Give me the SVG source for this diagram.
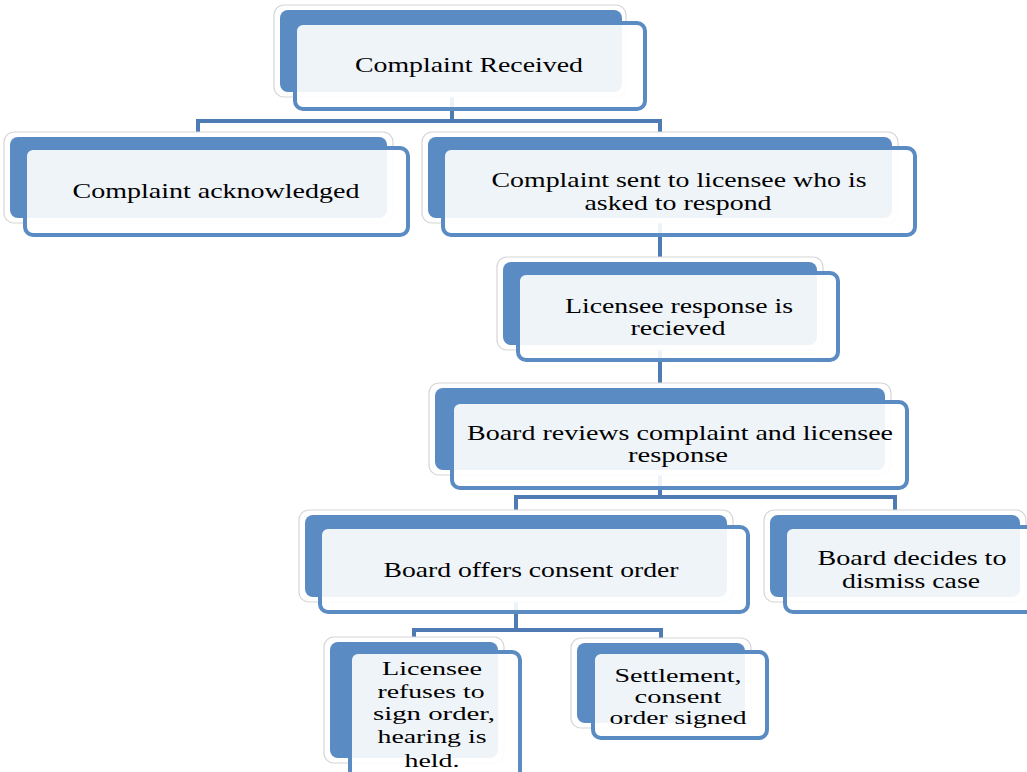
<svg xmlns="http://www.w3.org/2000/svg" width="1027" height="772" viewBox="0 0 1027 772">
<style>
.back{fill:#5B8BC3;stroke:none}
.halo{fill:#ffffff;stroke:#D6D6D6;stroke-width:1.2}
.front{fill:#ffffff;fill-opacity:0.9;stroke:#5B8BC3;stroke-width:4}
.conn{fill:none;stroke:#4E7BB3;stroke-width:4;stroke-linejoin:miter}
text{font-family:"Liberation Serif","Times New Roman",serif;font-size:21px;fill:#000;text-anchor:middle}
.sm{font-size:19px}
</style>
<rect width="1027" height="772" fill="#ffffff"/>
<g id="connectors">
<path class="conn" d="M452 92 V121 M198 137 V121 H660 V137"/>
<path class="conn" d="M660 218 V262"/>
<path class="conn" d="M660 345 V388"/>
<path class="conn" d="M660 470 V497 M516 515 V497 H895 V515"/>
<path class="conn" d="M516 597 V630 M414 642 V630 H661 V643"/>
</g>
<g id="n1">
<rect class="halo" x="274" y="5" width="352" height="92" rx="10"/>
<rect class="back" x="280" y="10" width="342" height="82" rx="8"/>
<rect class="front" x="295" y="23" width="350" height="86" rx="8"/>
<text x="469" y="72" textLength="228" lengthAdjust="spacingAndGlyphs">Complaint Received</text>
</g>
<g id="n2">
<rect class="halo" x="4" y="132" width="389" height="91" rx="10"/>
<rect class="back" x="10" y="137" width="377" height="81" rx="8"/>
<rect class="front" x="25" y="148" width="383" height="87" rx="8"/>
<text x="216" y="198" textLength="287" lengthAdjust="spacingAndGlyphs">Complaint acknowledged</text>
</g>
<g id="n3">
<rect class="halo" x="422" y="132" width="476" height="91" rx="10"/>
<rect class="back" x="428" y="137" width="464" height="81" rx="8"/>
<rect class="front" x="443" y="148" width="472" height="87" rx="8"/>
<text x="679" y="187" textLength="375" lengthAdjust="spacingAndGlyphs">Complaint sent to licensee who is</text>
<text x="678" y="210" textLength="187" lengthAdjust="spacingAndGlyphs">asked to respond</text>
</g>
<g id="n4">
<rect class="halo" x="497" y="257" width="326" height="93" rx="10"/>
<rect class="back" x="503" y="262" width="314" height="83" rx="8"/>
<rect class="front" x="518" y="273" width="320" height="87" rx="8"/>
<text x="679" y="313" textLength="228" lengthAdjust="spacingAndGlyphs">Licensee response is</text>
<text x="678" y="335" textLength="95" lengthAdjust="spacingAndGlyphs">recieved</text>
</g>
<g id="n5">
<rect class="halo" x="429" y="383" width="462" height="92" rx="10"/>
<rect class="back" x="435" y="388" width="450" height="82" rx="8"/>
<rect class="front" x="452" y="402" width="455" height="86" rx="8"/>
<text x="680" y="440" textLength="426" lengthAdjust="spacingAndGlyphs">Board reviews complaint and licensee</text>
<text x="678" y="462" textLength="100" lengthAdjust="spacingAndGlyphs">response</text>
</g>
<g id="n6">
<rect class="halo" x="299" y="510" width="434" height="92" rx="10"/>
<rect class="back" x="305" y="515" width="422" height="82" rx="8"/>
<rect class="front" x="320" y="527" width="428" height="85" rx="8"/>
<text x="531" y="577" textLength="295" lengthAdjust="spacingAndGlyphs">Board offers consent order</text>
</g>
<g id="n7">
<rect class="halo" x="764" y="510" width="262" height="92" rx="10"/>
<rect class="back" x="770" y="515" width="250" height="82" rx="8"/>
<rect class="front" x="785" y="527" width="250" height="85" rx="8"/>
<text x="912" y="565" textLength="189" lengthAdjust="spacingAndGlyphs">Board decides to</text>
<text x="911" y="588" textLength="138" lengthAdjust="spacingAndGlyphs">dismiss case</text>
</g>
<g id="n8">
<rect class="halo" x="324" y="637" width="180" height="126" rx="10"/>
<rect class="back" x="330" y="642" width="168" height="116" rx="8"/>
<rect class="front" x="350" y="652" width="170" height="130" rx="8"/>
<text class="sm" x="432" y="675" textLength="100" lengthAdjust="spacingAndGlyphs">Licensee</text>
<text class="sm" x="431" y="698" textLength="107" lengthAdjust="spacingAndGlyphs">refuses to</text>
<text class="sm" x="434" y="720" textLength="122" lengthAdjust="spacingAndGlyphs">sign order,</text>
<text class="sm" x="432" y="743" textLength="109" lengthAdjust="spacingAndGlyphs">hearing is</text>
<text class="sm" x="432" y="767" textLength="55" lengthAdjust="spacingAndGlyphs">held.</text>
</g>
<g id="n9">
<rect class="halo" x="571" y="638" width="180" height="90" rx="10"/>
<rect class="back" x="577" y="643" width="168" height="80" rx="8"/>
<rect class="front" x="593" y="652" width="174" height="86" rx="8"/>
<text class="sm" x="678" y="682" textLength="127" lengthAdjust="spacingAndGlyphs">Settlement,</text>
<text class="sm" x="678" y="703" textLength="87" lengthAdjust="spacingAndGlyphs">consent</text>
<text class="sm" x="678" y="724" textLength="137" lengthAdjust="spacingAndGlyphs">order signed</text>
</g>
</svg>
